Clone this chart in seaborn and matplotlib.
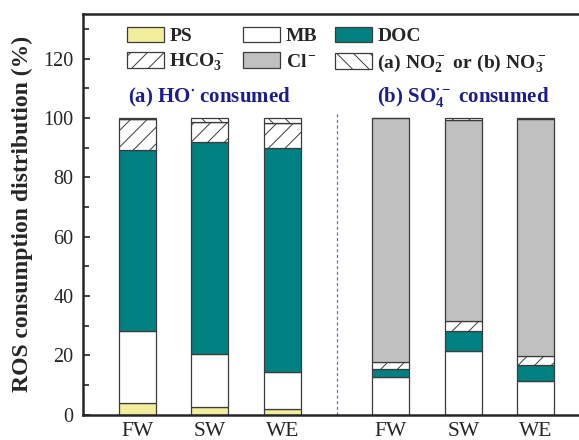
import matplotlib
matplotlib.use("Agg")
import matplotlib.pyplot as plt
from matplotlib.patches import Patch
import seaborn as sns
import pandas as pd

# bar positions: three waters for HO* (a), then three for SO4*- (b)
positions = [0, 1, 2, 3.5, 4.5, 5.5]
waters = ["FW", "SW", "WE", "FW", "SW", "WE"]

# consumption share (%) of each scavenger, bottom to top
ps = [3.8, 2.7, 1.9, 0.0, 0.0, 0.0]
mb = [24.5, 17.7, 12.4, 12.8, 21.6, 11.5]
doc = [60.8, 71.5, 75.4, 2.6, 6.6, 5.1]
hco3 = [10.4, 6.8, 8.6, 2.3, 3.5, 3.3]
cl = [0.0, 0.0, 0.0, 82.1, 67.5, 79.6]
nox = [0.5, 1.2, 1.6, 0.2, 0.7, 0.4]

labels = ["PS", "MB", "DOC", r"$\mathrm{HCO}_3^-$", r"$\mathrm{Cl}^-$",
          r"$\mathrm{(a)\ NO}_2^-\mathrm{\ or\ (b)\ NO}_3^-$"]
colors = ["#f3ee9c", "white", "#008080", "white", "#c0c0c0", "white"]
hatches = [None, None, None, "//", None, "\\\\"]

sns.set_style("ticks")
plt.rcParams["font.family"] = ["Liberation Serif"]
plt.rcParams["mathtext.fontset"] = "custom"
plt.rcParams["mathtext.rm"] = "Liberation Serif:bold"
plt.rcParams["mathtext.it"] = "Liberation Serif:bold"
plt.rcParams["mathtext.bf"] = "Liberation Serif:bold"
plt.rcParams["mathtext.default"] = "rm"
plt.rcParams["hatch.linewidth"] = 0.7

edge = "#3c3c3c"
fig = plt.figure(figsize=(5.79, 4.40), dpi=100)
ax = fig.add_axes([83 / 579, 25.3 / 440, (590 - 83) / 579, (414.7 - 14) / 440])

series = [ps, mb, doc, hco3, cl, nox]
bottom = [0.0] * len(positions)
for vals, col, hat in zip(series, colors, hatches):
    df = pd.DataFrame({"pos": positions, "val": vals})
    sns.barplot(data=df, x="pos", y="val", native_scale=True, width=0.51,
                color=col, saturation=1, edgecolor=edge, linewidth=0.9,
                hatch=hat, bottom=bottom, ax=ax)
    bottom = [b + v for b, v in zip(bottom, vals)]

ax.vlines(2.75, 0, 102, color="#6b6bd6", linestyle=(0, (2.5, 2)), linewidth=0.9)

ax.set_xlim(-0.75, 6.25)
ax.set_ylim(0, 135)
ax.set_xticks(positions)
ax.set_xticklabels(waters, fontsize=15.5)
ax.set_yticks(range(0, 121, 20))
ax.set_yticks(range(10, 131, 20), minor=True)
ax.tick_params(axis="y", labelsize=14.5, length=5, width=1.2, direction="in", pad=7)
ax.tick_params(axis="y", which="minor", length=4, width=1.2, direction="in")
ax.tick_params(axis="x", length=0, pad=5)
ax.set_xlabel("")
ax.set_ylabel("ROS consumption distribution (%)", fontsize=17, fontweight="bold", labelpad=7)
for side in ["left", "bottom", "top"]:
    ax.spines[side].set_linewidth(1.8)
ax.spines["right"].set_visible(False)

ax.text(1.0, 107, r"(a) HO$^{\bullet}$ consumed", color="#1c1c8c", fontsize=15,
        fontweight="bold", ha="center", va="center")
ax.text(4.5, 107, r"(b) SO$_4^{\bullet-}$ consumed", color="#1c1c8c", fontsize=15,
        fontweight="bold", ha="center", va="center")

order = [0, 3, 1, 4, 2, 5]
handles = [Patch(facecolor=colors[i], edgecolor=edge, hatch=hatches[i], linewidth=0.9) for i in order]
ax.legend(handles, [labels[i] for i in order], ncol=3, loc="upper left",
          bbox_to_anchor=(0.067, 0.993), frameon=False, borderpad=0,
          prop={"weight": "bold", "size": 14}, handlelength=1.9, handleheight=0.88,
          handletextpad=0.3, columnspacing=0.9, labelspacing=0.35)

fig.savefig("out.png", dpi=100)
